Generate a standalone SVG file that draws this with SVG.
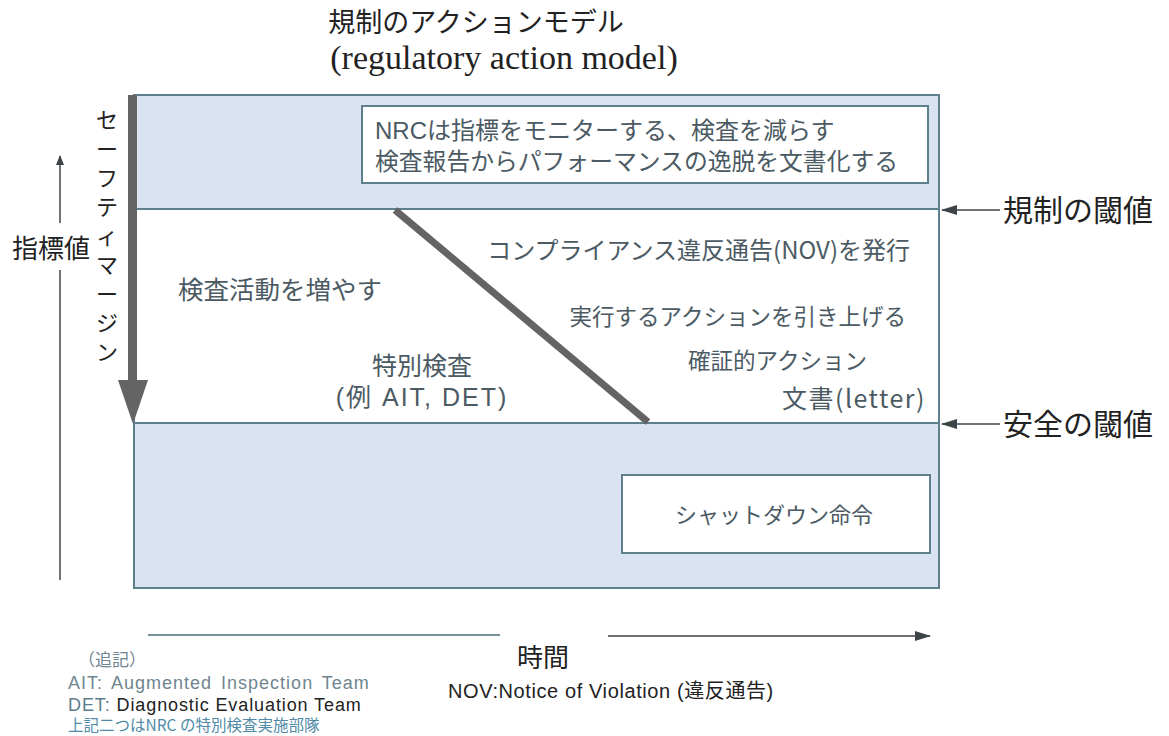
<svg xmlns="http://www.w3.org/2000/svg" width="1169" height="736" viewBox="0 0 1169 736">
<style>
.t{font-family:"Noto Sans CJK JP","Noto Sans",sans-serif;fill:#4b5a63}
.tl{font-family:"Liberation Sans","Noto Sans CJK JP",sans-serif;fill:#4b5a63}
.k{font-family:"Noto Sans CJK JP","Noto Sans",sans-serif;fill:#222}
.band{fill:#dae3f1;stroke:#5e7f8c;stroke-width:2}
.box{fill:#fff;stroke:#5e7f8c;stroke-width:2}
.thin{stroke:#3c4448;stroke-width:1.5;fill:none}
</style>
<defs>
<marker id="ah" markerWidth="10" markerHeight="8" refX="9" refY="4" orient="auto" markerUnits="userSpaceOnUse" viewBox="0 0 10 8">
<path d="M0,0 L10,4 L0,8 Z" fill="#3c4448"/>
</marker>
<marker id="ah2" markerWidth="16" markerHeight="10" refX="15" refY="5" orient="auto" markerUnits="userSpaceOnUse" viewBox="0 0 16 10">
<path d="M0,0 L16,5 L0,10 Z" fill="#3c4448"/>
</marker>
</defs>
<rect width="1169" height="736" fill="#fff"/>
<g id="title">
<text class="k" x="476" y="32" font-size="27" text-anchor="middle">規制のアクションモデル</text>
<text x="504" y="69" font-size="34" text-anchor="middle" font-family="Liberation Serif,serif" fill="#222">(regulatory action model)</text>
</g>
<g id="zone-top">
<rect class="band" x="134" y="95" width="805" height="114"/>
</g>
<g id="zone-middle">
<rect x="134" y="209" width="805" height="214" fill="#fff" stroke="#5e7f8c" stroke-width="2"/>
</g>
<g id="zone-bottom">
<rect class="band" x="134" y="423" width="805" height="165"/>
</g>
<g id="nrc-box">
<rect class="box" x="362" y="106" width="566" height="77"/>
<text class="tl" x="375" y="139" font-size="24">NRCは指標をモニターする、検査を減らす</text>
<text class="tl" x="375" y="170" font-size="23.8">検査報告からパフォーマンスの逸脱を文書化する</text>
</g>
<g id="shutdown-box">
<rect class="box" x="622" y="475" width="308" height="78"/>
<text class="t" x="774" y="523" font-size="22" text-anchor="middle">シャットダウン命令</text>
</g>
<g id="labels">
<text class="t" x="178" y="299" font-size="25.5">検査活動を増やす</text>
<text class="tl" x="422" y="375" font-size="25" text-anchor="middle">特別検査</text>
<text class="tl" x="422" y="406" font-size="25" text-anchor="middle" letter-spacing="2">(例 AIT, DET)</text>
<text class="t" x="910" y="259" font-size="24" text-anchor="end">コンプライアンス違反通告(NOV)を発行</text>
<text class="t" x="906" y="325" font-size="22.5" text-anchor="end">実行するアクションを引き上げる</text>
<text class="t" x="867" y="369" font-size="22.5" text-anchor="end">確証的アクション</text>
<text class="t" x="926" y="408" font-size="25" text-anchor="end" letter-spacing="1.5">文書(letter)</text>
</g>
<g id="connectors">
<line x1="395" y1="210" x2="648" y2="422" stroke="#646464" stroke-width="7"/>
<rect x="128" y="95" width="9" height="287" fill="#646464"/>
<path d="M118,380 L148,380 L133,424 Z" fill="#646464"/>
<line class="thin" x1="60" y1="580" x2="60" y2="270"/>
<line class="thin" x1="60" y1="223" x2="60" y2="156" marker-end="url(#ah)"/>
<line class="thin" x1="1000" y1="210" x2="942" y2="210" marker-end="url(#ah2)"/>
<line class="thin" x1="1000" y1="424" x2="942" y2="424" marker-end="url(#ah2)"/>
<line x1="148" y1="635" x2="500" y2="635" stroke="#4e6b78" stroke-width="1.5"/>
<line class="thin" x1="608" y1="636" x2="930" y2="636" marker-end="url(#ah2)"/>
</g>
<g id="axis-labels">
<text class="k" x="51" y="258" font-size="26" text-anchor="middle">指標値</text>
<text class="k" x="1003" y="221" font-size="30">規制の閾値</text>
<text class="k" x="1003" y="435" font-size="30">安全の閾値</text>
<text class="k" x="543" y="667" font-size="26" text-anchor="middle">時間</text>
<g class="k" font-size="22" text-anchor="middle">
<text x="107" y="128">セ</text>
<text x="107" y="157">ー</text>
<text x="107" y="186">フ</text>
<text x="107" y="215">テ</text>
<text x="107" y="244">ィ</text>
<text x="107" y="273">マ</text>
<text x="107" y="302">ー</text>
<text x="107" y="331">ジ</text>
<text x="107" y="360">ン</text>
</g>
</g>
<g id="notes">
<text x="448" y="698" font-size="20" letter-spacing="0.6" font-family="Liberation Sans,Noto Sans CJK JP,sans-serif" fill="#222">NOV:Notice of Violation (違反通告)</text>
<text x="78" y="666" font-size="17" font-family="Noto Sans CJK JP,sans-serif" fill="#6f8590">（追記）</text>
<text x="68" y="689" font-size="18" font-family="Liberation Sans,sans-serif" fill="#6f8590" letter-spacing="1" word-spacing="3">AIT:  Augmented Inspection Team</text>
<text x="68" y="711" font-size="18" font-family="Liberation Sans,sans-serif" fill="#5d7d8c" letter-spacing="0.9">DET: <tspan fill="#222">Diagnostic Evaluation Team</tspan></text>
<text x="68" y="731" font-size="15.5" font-family="Noto Sans CJK JP,sans-serif" fill="#4f8aa6">上記二つはNRC の特別検査実施部隊</text>
</g>
</svg>
